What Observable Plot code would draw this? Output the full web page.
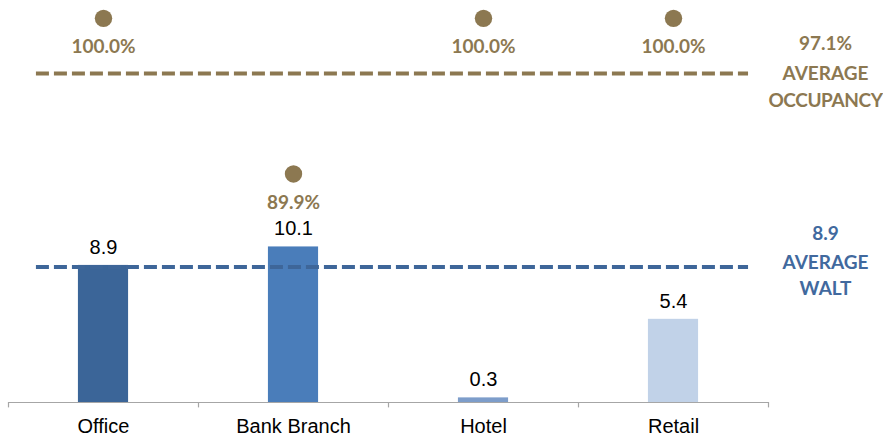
<!DOCTYPE html>
<html>
<head>
<meta charset="utf-8">
<script src="https://cdn.jsdelivr.net/npm/d3@7"></script>
<script src="https://cdn.jsdelivr.net/npm/@observablehq/plot@0.6"></script>
<style>
  html, body { margin: 0; padding: 0; background: #fff; }
  .condensed text { letter-spacing: -0.4px; }
</style>
</head>
<body>
<div id="chart"></div>
<script>
const categories = ["Office", "Bank Branch", "Hotel", "Retail"];
const waltValues = [8.9, 10.1, 0.3, 5.4];
const occupancyValues = [100.0, 89.9, 100.0, 100.0];
const averageOccupancy = 97.1;
const averageWalt = 8.9;

const barColors = ["#3B6598", "#4A7DBA", "#7D9DCA", "#C1D2E8"];
const gold = "#8C7851";
const blue = "#41699E";
const occToY = v => v - 75.06; // secondary (occupancy) axis mapped onto WALT axis

const data = categories.map((c, i) => ({
  i, category: c, walt: waltValues[i], occ: occupancyValues[i], color: barColors[i]
}));

const sans = "Liberation Sans, Arial, sans-serif";
const cal = "Lato, Carlito, Calibri, sans-serif";
const rightX = 4.3;

const chart = Plot.plot({
  width: 883,
  height: 437,
  marginLeft: 8,
  marginRight: 115,
  marginTop: 0,
  marginBottom: 35,
  x: { domain: [0, 4], axis: null },
  y: { domain: [0, 26.1], axis: null },
  color: { type: "identity" },
  marks: [
    Plot.rectY(data, {
      x1: d => d.i + 0.5 - 0.132,
      x2: d => d.i + 0.5 + 0.132,
      y1: 0,
      y2: d => d.walt,
      fill: d => d.color
    }),
    Plot.ruleY([0], { x1: 0, x2: 4, stroke: "#A6A6A6", strokeWidth: 1.2 }),
    Plot.ruleX([0, 1, 2, 3, 4], { y1: 0, y2: -0.35, stroke: "#A6A6A6", strokeWidth: 1.2 }),
    Plot.text(data, {
      x: d => d.i + 0.5, y: 0, text: d => d.category, dy: 24,
      fontSize: 20, fontFamily: sans, fill: "#000"
    }),
    Plot.text(data, {
      x: d => d.i + 0.5, y: d => d.walt, text: d => d.walt.toFixed(1), dy: -18,
      fontSize: 20, fontFamily: sans, fill: "#000"
    }),
    Plot.ruleY([averageWalt], {
      x1: 0.147, x2: 3.895, stroke: "#3E6699", strokeWidth: 4,
      strokeDasharray: "13,5", dy: 1.5
    }),
    Plot.ruleY([occToY(averageOccupancy)], {
      x1: 0.147, x2: 3.895, stroke: gold, strokeWidth: 4,
      strokeDasharray: "13,5", dy: 10.5
    }),
    Plot.dot(data, {
      x: d => d.i + 0.5, y: d => occToY(d.occ), r: 8.7, fill: gold, stroke: "none"
    }),
    Plot.text(data, {
      x: d => d.i + 0.5, y: d => occToY(d.occ), text: d => d.occ.toFixed(1) + "%", dy: 28.5,
      fontSize: 19, fontFamily: cal, fontWeight: "bold", fill: gold
    }),
    Plot.text([averageOccupancy], {
      x: rightX, y: occToY(averageOccupancy), text: d => d.toFixed(1) + "%", dy: -19.5,
      fontSize: 19, fontFamily: cal, fontWeight: "bold", fill: gold
    }),
    Plot.text(["AVERAGE"], {
      x: rightX, y: occToY(averageOccupancy), text: d => d, dy: 10.5,
      fontSize: 19, fontFamily: cal, fontWeight: "bold", fill: gold
    }),
    Plot.text(["OCCUPANCY"], {
      x: rightX, y: occToY(averageOccupancy), text: d => d, dy: 37.5,
      fontSize: 19, fontFamily: cal, fontWeight: "bold", fill: gold, className: "condensed"
    }),
    Plot.text([averageWalt], {
      x: rightX, y: averageWalt, text: d => d.toFixed(1), dy: -32,
      fontSize: 19, fontFamily: cal, fontWeight: "bold", fill: blue
    }),
    Plot.text(["AVERAGE"], {
      x: rightX, y: averageWalt, text: d => d, dy: -3,
      fontSize: 19, fontFamily: cal, fontWeight: "bold", fill: blue
    }),
    Plot.text(["WALT"], {
      x: rightX, y: averageWalt, text: d => d, dy: 23.5,
      fontSize: 19, fontFamily: cal, fontWeight: "bold", fill: blue
    })
  ]
});
document.getElementById("chart").appendChild(chart);
</script>
</body>
</html>
